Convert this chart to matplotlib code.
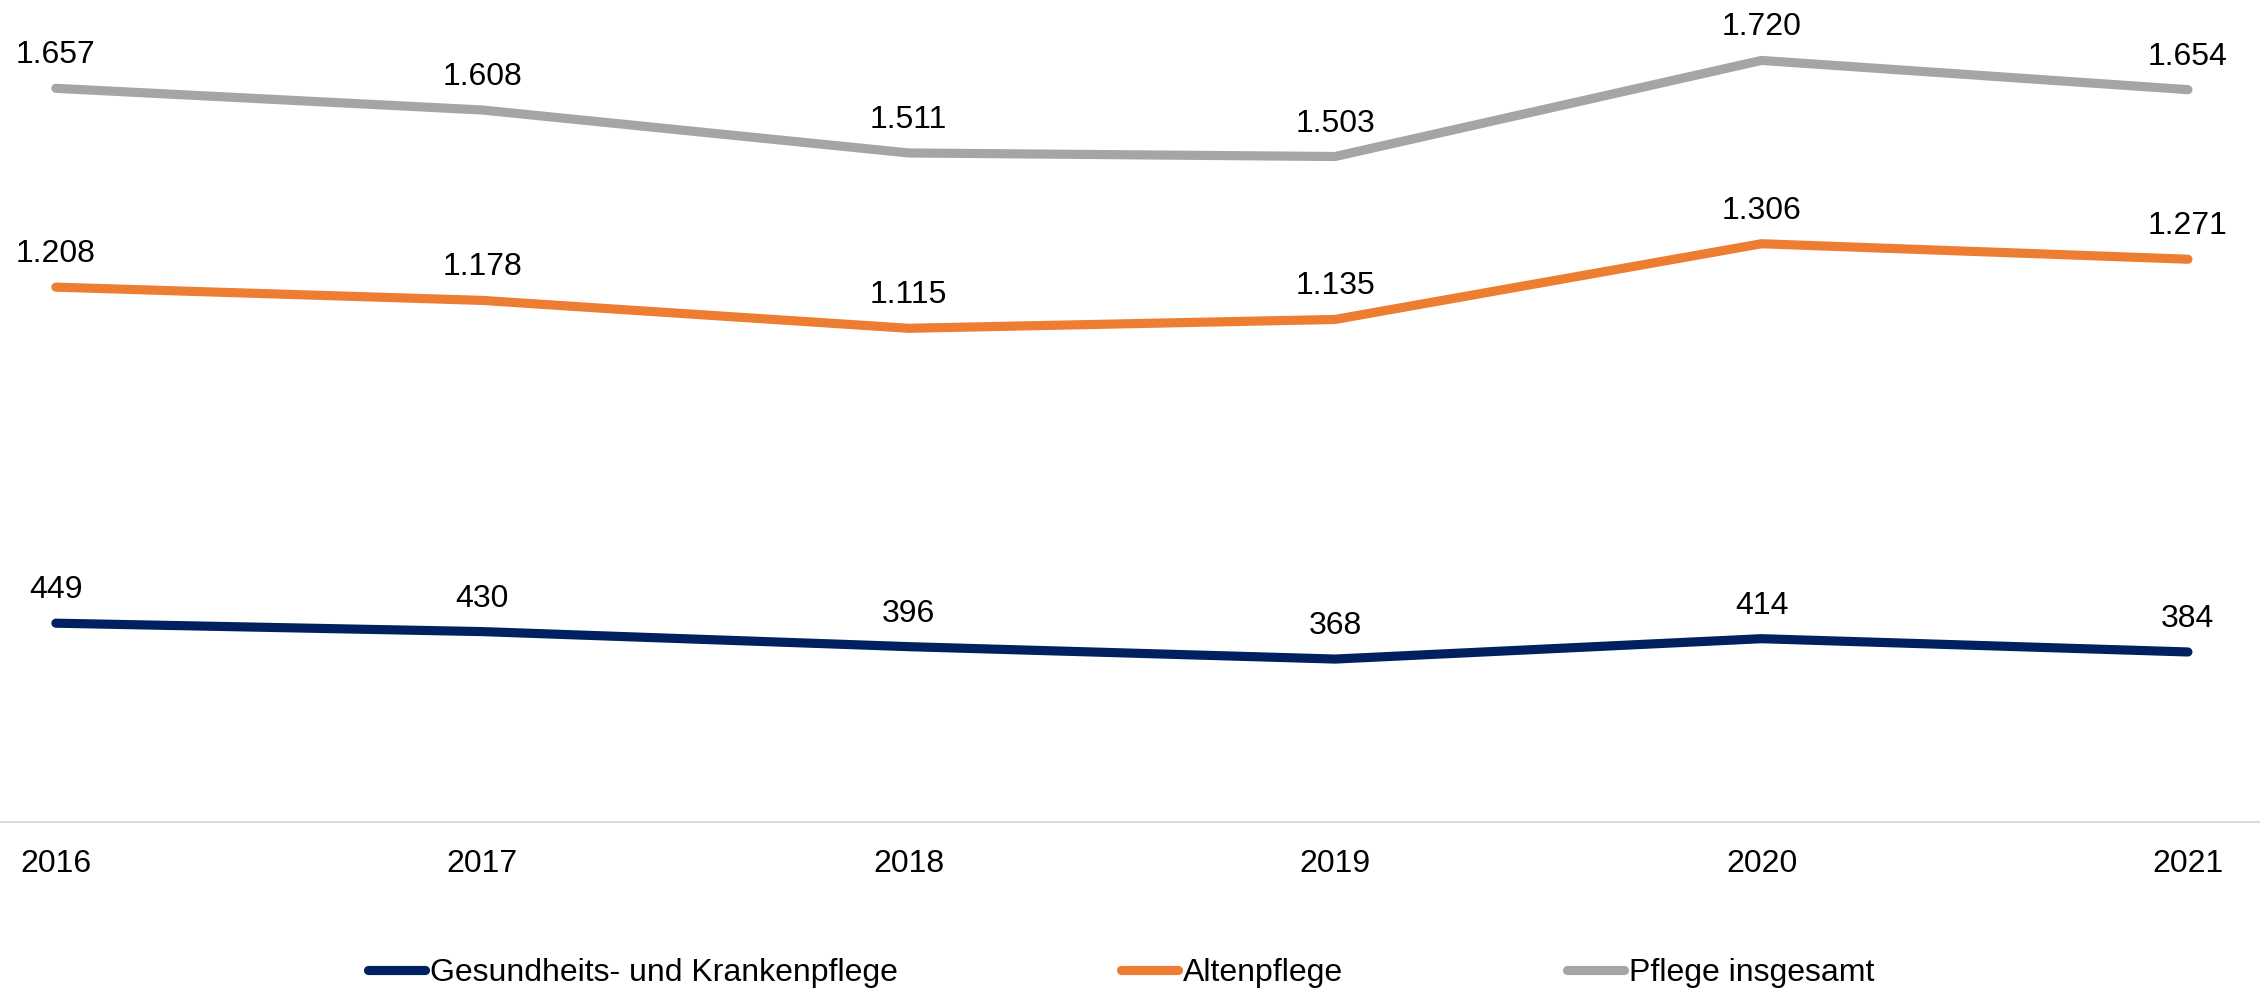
import matplotlib
matplotlib.use("Agg")
import matplotlib.pyplot as plt

plt.rcParams['font.family'] = ['Liberation Sans', 'DejaVu Sans']

years = ["2016", "2017", "2018", "2019", "2020", "2021"]
gesundheit = [449, 430, 396, 368, 414, 384]
altenpflege = [1208, 1178, 1115, 1135, 1306, 1271]
insgesamt = [1657, 1608, 1511, 1503, 1720, 1654]

series_names = ["Gesundheits- und Krankenpflege", "Altenpflege", "Pflege insgesamt"]
series_values = [gesundheit, altenpflege, insgesamt]
series_colors = ["#002060", "#ED7D31", "#A5A5A5"]

W, H, DPI = 2260, 992, 100
fig = plt.figure(figsize=(W / DPI, H / DPI), dpi=DPI)
ax = fig.add_axes([0, 1 - 822 / H, 1, (822 - 25) / H])

x = list(range(len(years)))
fs = 23
lw = 6.6


def fmt(v):
    # German thousands separator
    return f"{v:,}".replace(",", ".")


for name, vals, col in zip(series_names, series_values, series_colors):
    ax.plot(x, vals, color=col, lw=lw, solid_capstyle='round',
            solid_joinstyle='round', label=name, clip_on=False)
    for xi, v in zip(x, vals):
        ax.annotate(fmt(v), (xi, v), xytext=(0, 18), textcoords='offset points',
                    ha='center', va='baseline', fontsize=fs, color='black',
                    annotation_clip=False)

ax.set_xlim(-0.131, 5.169)
ax.set_ylim(0, 1800)
ax.set_xticks(x)
ax.set_xticklabels(years, fontsize=fs)
ax.set_yticks([])
ax.tick_params(axis='x', length=0, pad=19.5, colors='black')
for s in ['left', 'right', 'top']:
    ax.spines[s].set_visible(False)
ax.spines['bottom'].set_color('#D9D9D9')
ax.spines['bottom'].set_linewidth(1.5)

leg = fig.legend(loc='center', bbox_to_anchor=(1121 / W, 1 - 973 / H), ncol=3,
                 frameon=False, fontsize=fs, handlelength=1.78, handletextpad=0.16,
                 columnspacing=7.0, borderpad=0, borderaxespad=0)
for h in leg.get_lines():
    h.set_linewidth(lw)
    h.set_solid_capstyle('round')

fig.savefig("out.png", dpi=DPI)
